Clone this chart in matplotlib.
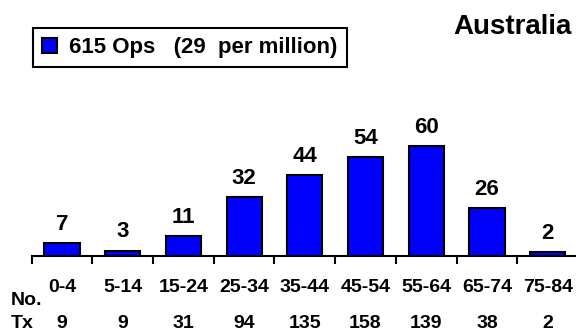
import matplotlib.pyplot as plt
import matplotlib.transforms as mtransforms
import numpy as np

plt.rcParams['font.family'] = ['Liberation Sans', 'DejaVu Sans']
plt.rcParams['font.weight'] = 'bold'

# age groups, operations per group, and "No. Tx" row
age_groups = ['0-4', '5-14', '15-24', '25-34', '35-44', '45-54', '55-64', '65-74', '75-84']
ops = [7, 3, 11, 32, 44, 54, 60, 26, 2]
no_tx = [9, 9, 31, 94, 135, 158, 139, 38, 2]
legend_label = '615 Ops   (29  per million)'
title = 'Australia'

fig = plt.figure(figsize=(5.76, 3.32), dpi=100)
ax = fig.add_axes([31.7/576, 1 - 256/332, (578-31.7)/576, (256-127.7)/332])

x = np.arange(len(age_groups)) + 0.5
bars = ax.bar(x, ops, width=0.58, color='#0000FF', edgecolor='black', linewidth=1.5,
              label=legend_label)

for xi, v in zip(x, ops):
    ax.annotate(str(v), (xi, v), xytext=(0, 6), textcoords='offset points',
                ha='center', va='bottom', fontsize=16, fontweight='bold')

ax.set_xlim(0, len(age_groups))
ax.set_ylim(0, 70)
for s in ['top', 'right', 'left']:
    ax.spines[s].set_visible(False)
ax.spines['bottom'].set_linewidth(1.5)
ax.set_yticks([])
ax.set_xticks(np.arange(len(age_groups)))
ax.set_xticklabels([])
ax.tick_params(axis='x', direction='out', length=6, width=1.5)

trans = mtransforms.blended_transform_factory(ax.transData, fig.transFigure)
for xi, lab, n in zip(x, age_groups, no_tx):
    ax.text(xi, 1 - 287/332, lab, transform=trans, ha='center', va='center',
            fontsize=14, fontweight='bold')
    ax.text(xi, 1 - 324/332, str(n), transform=trans, ha='center', va='center',
            fontsize=14, fontweight='bold')
fig.text(11/576, 1 - 300.5/332, 'No.', ha='left', va='center', fontsize=14, fontweight='bold')
fig.text(11/576, 1 - 324/332, 'Tx', ha='left', va='center', fontsize=14, fontweight='bold')

fig.text(572/576, 1 - 27/332, title, ha='right', va='center', fontsize=20, fontweight='bold')

leg = ax.legend(handles=[bars], loc='upper left', bbox_to_anchor=(32.7/576, 1 - 27.7/332),
                bbox_transform=fig.transFigure, fontsize=16, handlelength=0.66,
                handleheight=0.66, handletextpad=0.55, borderpad=0.42, borderaxespad=0,
                fancybox=False, edgecolor='black', framealpha=1)
leg.get_frame().set_linewidth(1.5)
for t in leg.get_texts():
    t.set_fontweight('bold')

fig.savefig('out.png', dpi=100)
